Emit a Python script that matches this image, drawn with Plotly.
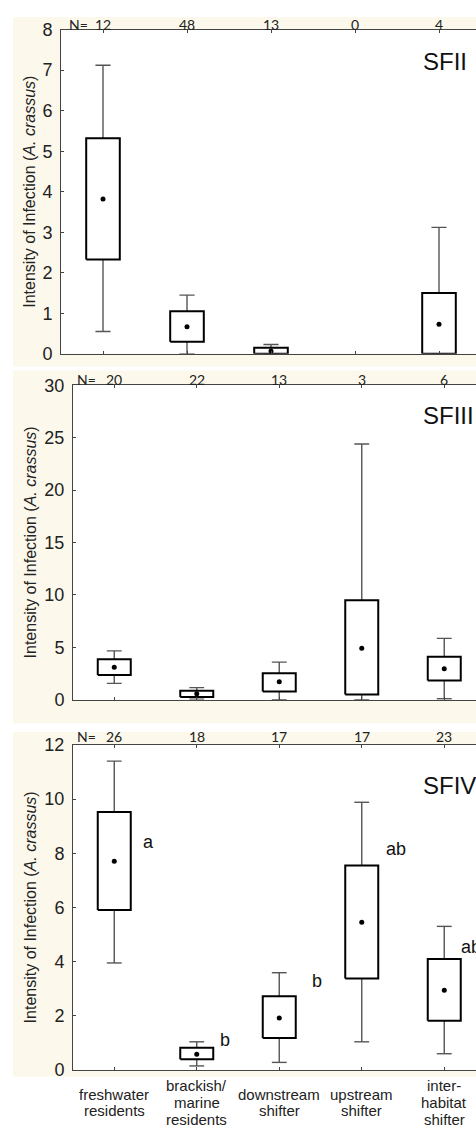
import plotly.graph_objects as go

W, H = 476, 1135

categories = ["freshwater<br>residents", "brackish/<br>marine<br>residents",
              "downstream<br>shifter", "upstream<br>shifter", "inter-<br>habitat<br>shifter"]
panel_names = ["SFII", "SFIII", "SFIV"]

# SFII
sfii_n = [12, 48, 13, 0, 4]
sfii_upper = [7.12, 1.45, 0.23, None, 3.12]
sfii_q3 = [5.32, 1.05, 0.15, None, 1.50]
sfii_center = [3.82, 0.67, 0.07, None, 0.73]
sfii_q1 = [2.33, 0.30, 0.00, None, 0.00]
sfii_lower = [0.55, 0.00, 0.00, None, 0.00]
sfii_ticks = [0, 1, 2, 3, 4, 5, 6, 7, 8]

# SFIII
sfiii_n = [20, 22, 13, 3, 6]
sfiii_upper = [4.65, 1.15, 3.58, 24.40, 5.85]
sfiii_q3 = [3.85, 0.85, 2.52, 9.48, 4.10]
sfiii_center = [3.10, 0.55, 1.70, 4.90, 2.95]
sfiii_q1 = [2.35, 0.25, 0.78, 0.50, 1.83]
sfiii_lower = [1.55, 0.05, 0.00, 0.00, 0.08]
sfiii_ticks = [0, 5, 10, 15, 20, 25, 30]

# SFIV
sfiv_n = [26, 18, 17, 17, 23]
sfiv_upper = [11.40, 1.04, 3.59, 9.88, 5.30]
sfiv_q3 = [9.52, 0.82, 2.72, 7.55, 4.10]
sfiv_center = [7.70, 0.58, 1.92, 5.45, 2.94]
sfiv_q1 = [5.90, 0.40, 1.18, 3.38, 1.82]
sfiv_lower = [3.95, 0.15, 0.28, 1.04, 0.60]
sfiv_ticks = [0, 2, 4, 6, 8, 10, 12]
sfiv_letters = ["a", "b", "b", "ab", "ab"]

# ---------- layout geometry (pixels) ----------
geom = [
    dict(left=61, top=20, bottom=350, step=84.0, cream=(13, 7, 363), nlab=14.5, nx=90, title_y=52),
    dict(left=73, top=382, bottom=702, step=82.5, cream=(13, 367, 726), nlab=376.5, nx=98, title_y=413),
    dict(left=73, top=748, bottom=1079, step=82.5, cream=(13, 735, 1086), nlab=739.5, nx=98, title_y=789),
]
letter_pos = [(0.32, 8.4), (1.26, 1.12), (2.37, 3.3), (3.27, 8.15), (4.18, 4.55)]

data = [
    (sfii_n, sfii_upper, sfii_q3, sfii_center, sfii_q1, sfii_lower, sfii_ticks),
    (sfiii_n, sfiii_upper, sfiii_q3, sfiii_center, sfiii_q1, sfiii_lower, sfiii_ticks),
    (sfiv_n, sfiv_upper, sfiv_q3, sfiv_center, sfiv_q1, sfiv_lower, sfiv_ticks),
]

FONT = "Liberation Sans, Arial, sans-serif"
NFONT = "Lato, Carlito, Calibri, sans-serif"
BOX_HW = 0.20
CAP_HW = 0.09

def px2py(y):
    return 1 - y / H

fig = go.Figure()
shapes = []
annotations = []
layout_axes = {}

for p, (g, d) in enumerate(zip(geom, data)):
    n, up, q3, mid, q1, lo, ticks = d
    sfx = "" if p == 0 else str(p + 1)
    xa, ya = "x" + sfx, "y" + sfx

    # backgrounds
    cx0, cy0, cy1 = g["cream"]
    shapes.append(dict(type="rect", xref="paper", yref="paper", x0=cx0 / W, x1=1,
                       y0=px2py(cy1), y1=px2py(cy0), fillcolor="#FCF8EC", line=dict(width=0),
                       layer="below"))
    shapes.append(dict(type="rect", xref="paper", yref="paper", x0=g["left"] / W, x1=1,
                       y0=px2py(g["bottom"]), y1=px2py(g["top"]), fillcolor="white",
                       line=dict(width=0), layer="below"))

    idx = [i for i in range(len(categories)) if q3[i] is not None]

    # whiskers
    wx, wy = [], []
    for i in idx:
        wx += [i, i, None, i, i, None, i - CAP_HW, i + CAP_HW, None, i - CAP_HW, i + CAP_HW, None]
        wy += [q3[i], up[i], None, q1[i], lo[i], None, up[i], up[i], None, lo[i], lo[i], None]
    fig.add_trace(go.Scatter(x=wx, y=wy, mode="lines", line=dict(color="#555555", width=1.4),
                             xaxis=xa, yaxis=ya, hoverinfo="skip", showlegend=False,
                             cliponaxis=False))
    # boxes
    bx, by = [], []
    for i in idx:
        bx += [i - BOX_HW, i + BOX_HW, i + BOX_HW, i - BOX_HW, i - BOX_HW, None]
        by += [q1[i], q1[i], q3[i], q3[i], q1[i], None]
    fig.add_trace(go.Scatter(x=bx, y=by, mode="lines", fill="toself", fillcolor="white",
                             line=dict(color="black", width=2), xaxis=xa, yaxis=ya,
                             hoverinfo="skip", showlegend=False, cliponaxis=False))
    # center dots
    fig.add_trace(go.Scatter(x=idx, y=[mid[i] for i in idx], mode="markers",
                             marker=dict(color="black", size=5), xaxis=xa, yaxis=ya,
                             showlegend=False, cliponaxis=False))

    xr = [-0.5, -0.5 + (W - g["left"]) / g["step"]]
    layout_axes["xaxis" + sfx] = dict(
        domain=[g["left"] / W, 1], range=xr, anchor=ya, tickvals=list(range(5)),
        showticklabels=False, ticks="inside", ticklen=3, tickcolor="#444",
        showline=True, linecolor="#444", linewidth=1, mirror="ticks",
        showgrid=False, zeroline=False, fixedrange=True)
    layout_axes["yaxis" + sfx] = dict(
        domain=[px2py(g["bottom"]), px2py(g["top"])], range=[0, ticks[-1]], anchor=xa,
        tickvals=ticks, ticks="inside", ticklen=3, tickcolor="#444",
        tickfont=dict(family=FONT, size=18, color="#222"), ticklabelstandoff=4,
        showline=True, linecolor="#444", linewidth=1, showgrid=False, zeroline=False,
        fixedrange=True)

    # N labels
    annotations.append(dict(text="N=", xref="paper", yref="paper", x=g["nx"] / W,
                            y=px2py(g["nlab"]), xanchor="right", yanchor="middle",
                            showarrow=False, font=dict(family=NFONT, size=14, color="#222")))
    for i in range(len(categories)):
        annotations.append(dict(text=str(n[i]), xref=xa, yref="paper", x=i,
                                y=px2py(g["nlab"]), xanchor="center", yanchor="middle",
                                showarrow=False, font=dict(family=NFONT, size=14, color="#222")))
    # panel title
    annotations.append(dict(text=panel_names[p], xref="paper", yref="paper", x=421 / W,
                            y=px2py(g["title_y"]), xanchor="left", yanchor="middle",
                            showarrow=False, font=dict(family=FONT, size=24, color="#111")))
    # y title
    annotations.append(dict(text="Intensity of Infection (<i>A. crassus</i>)", xref="paper",
                            yref="paper", x=30 / W, y=px2py((g["top"] + g["bottom"]) / 2),
                            xanchor="center", yanchor="middle", textangle=-90, showarrow=False,
                            font=dict(family=FONT, size=16, color="#222")))

# significance letters (SFIV)
for i, (lx, ly) in enumerate(letter_pos):
    annotations.append(dict(text=sfiv_letters[i], xref="x3", yref="y3", x=lx, y=ly,
                            xanchor="left", yanchor="middle", showarrow=False,
                            font=dict(family=FONT, size=18, color="#111")))

# category labels under SFIV
for i, cat in enumerate(categories):
    lines = cat.split("<br>")
    for k, line in enumerate(lines):
        yc = 1112 + (k - (len(lines) - 1) / 2) * 17
        annotations.append(dict(text=line, xref="x3", yref="paper", x=i, y=px2py(yc),
                                xanchor="center", yanchor="middle", showarrow=False,
                                font=dict(family=FONT, size=15, color="#222")))

fig.update_layout(width=W, height=H, margin=dict(l=0, r=0, t=0, b=0),
                  paper_bgcolor="white", plot_bgcolor="rgba(0,0,0,0)",
                  shapes=shapes, annotations=annotations, showlegend=False, **layout_axes)

fig.write_html("out.html", config={"displayModeBar": False},
               post_script="document.body.style.margin='0';document.body.style.overflow='hidden';")
